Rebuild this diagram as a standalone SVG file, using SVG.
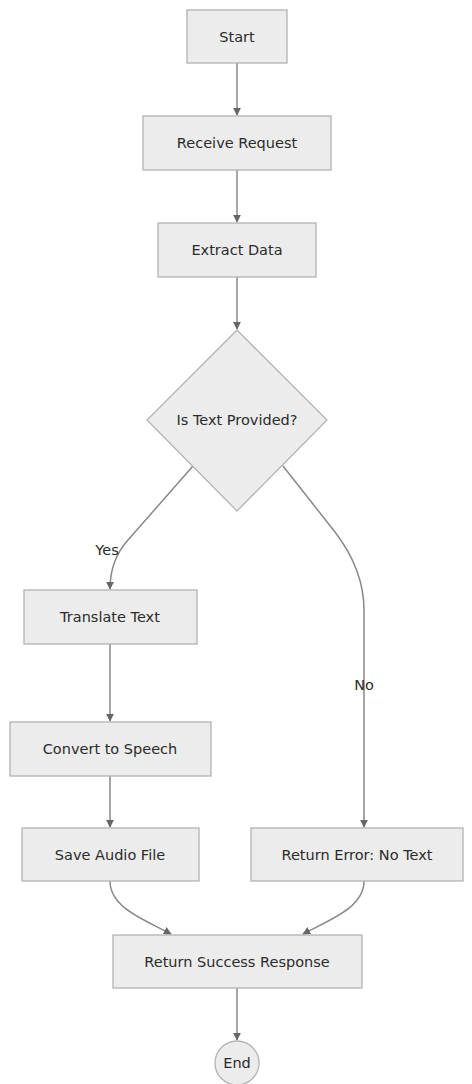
<svg xmlns="http://www.w3.org/2000/svg" width="472" height="1084" viewBox="0 0 472 1084">
<style>
.n{fill:#ececec;stroke:#b3b3b3;stroke-width:1.3}
.t{font-family:"DejaVu Sans",sans-serif;font-size:14.5px;fill:#2b2b2b;text-anchor:middle;dominant-baseline:central}
.e{fill:none;stroke:#888;stroke-width:1.5}
.l{font-family:"DejaVu Sans",sans-serif;font-size:14.5px;fill:#2b2b2b;text-anchor:middle;dominant-baseline:central}
</style>
<defs>
<marker id="a" viewBox="0 0 10 10" refX="9" refY="5" markerWidth="8" markerHeight="8" orient="auto" markerUnits="userSpaceOnUse">
<path d="M0,0 L10,5 L0,10 z" fill="#666"/>
</marker>
</defs>
<rect width="472" height="1084" fill="#fff"/>
<g id="edges">
<path class="e" d="M237,63 L237,115" marker-end="url(#a)"/>
<path class="e" d="M237,170 L237,222" marker-end="url(#a)"/>
<path class="e" d="M237,277 L237,329" marker-end="url(#a)"/>
<path class="e" d="M193,466 L128,540 Q110,560 110,589" marker-end="url(#a)"/>
<path class="e" d="M283,466 L335,532 Q364,570 364,610 L364,827" marker-end="url(#a)"/>
<path class="e" d="M110,644 L110,721" marker-end="url(#a)"/>
<path class="e" d="M110,776 L110,827" marker-end="url(#a)"/>
<path class="e" d="M110,881 C110,908 145,920 171,934" marker-end="url(#a)"/>
<path class="e" d="M364,881 C364,908 329,920 303,934" marker-end="url(#a)"/>
<path class="e" d="M237,988 L237,1040" marker-end="url(#a)"/>
<text class="l" x="107" y="550">Yes</text>
<text class="l" x="364" y="685">No</text>
</g>
<g id="start"><rect class="n" x="187" y="10" width="100" height="53"/><text class="t" x="237" y="37">Start</text></g>
<g id="receive"><rect class="n" x="143" y="116" width="188" height="54"/><text class="t" x="237" y="143">Receive Request</text></g>
<g id="extract"><rect class="n" x="158" y="223" width="158" height="54"/><text class="t" x="237" y="250">Extract Data</text></g>
<g id="decision"><polygon class="n" points="237,330 327,420 237,511 147,420"/><text class="t" x="237" y="420">Is Text Provided?</text></g>
<g id="translate"><rect class="n" x="24" y="590" width="173" height="54"/><text class="t" x="110" y="617">Translate Text</text></g>
<g id="convert"><rect class="n" x="10" y="722" width="201" height="54"/><text class="t" x="110" y="749">Convert to Speech</text></g>
<g id="save"><rect class="n" x="22" y="828" width="177" height="53"/><text class="t" x="110" y="855">Save Audio File</text></g>
<g id="error"><rect class="n" x="251" y="828" width="212" height="53"/><text class="t" x="357" y="855">Return Error: No Text</text></g>
<g id="success"><rect class="n" x="113" y="935" width="249" height="53"/><text class="t" x="237" y="962">Return Success Response</text></g>
<g id="end"><circle class="n" cx="237" cy="1063" r="22"/><text class="t" x="237" y="1063">End</text></g>
</svg>
